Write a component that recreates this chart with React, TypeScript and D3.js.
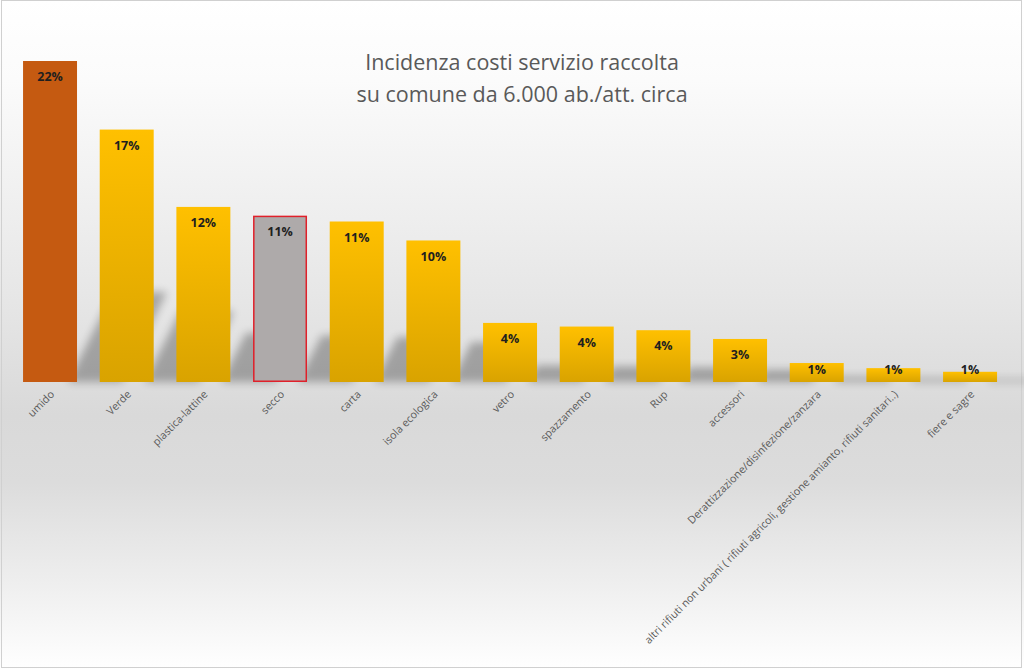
import React from "react";
import * as d3 from "d3";

const categories: string[] = [
  "umido",
  "Verde",
  "plastica-lattine",
  "secco",
  "carta",
  "isola ecologica",
  "vetro",
  "spazzamento",
  "Rup",
  "accessori",
  "Derattizzazione/disinfezione/zanzara",
  "altri rifiuti non urbani ( rifiuti agricoli, gestione amianto, rifiuti sanitari..)",
  "fiere e sagre",
];
const values: number[] = [22.0, 17.3, 12.0, 11.4, 11.0, 9.7, 4.05, 3.8, 3.55, 2.95, 1.3, 0.95, 0.7];
const labels: string[] = ["22%", "17%", "12%", "11%", "11%", "10%", "4%", "4%", "4%", "3%", "1%", "1%", "1%"];
const barKinds: string[] = ["orange", "yellow", "yellow", "grey", "yellow", "yellow", "yellow", "yellow", "yellow", "yellow", "yellow", "yellow", "yellow"];
const titleLines: string[] = ["Incidenza costi servizio raccolta", "su comune da 6.000 ab./att. circa"];

const W = 1024;
const H = 670;
const BASE = 382;
const FONT = "'Open Sans', sans-serif";

export default function App() {
  const x = d3
    .scaleBand<string>()
    .domain(categories)
    .range([11.7, 1008.4])
    .paddingInner(0.296)
    .paddingOuter(0.148);
  const y = d3.scaleLinear().domain([0, 22]).range([BASE, 61]);
  const bw = x.bandwidth();

  const fillFor = (k: string) =>
    k === "orange" ? "url(#gOrange)" : k === "grey" ? "url(#gGrey)" : "url(#gYellow)";

  return (
    <div style={{ position: "absolute", left: 0, top: 0 }}>
      <svg width={W} height={H} style={{ display: "block" }}>
        <defs>
          <linearGradient id="bg" x1="0" y1="0" x2="0" y2="1">
            <stop offset="0" stopColor="#ffffff" />
            <stop offset="0.12" stopColor="#fbfbfb" />
            <stop offset="0.45" stopColor="#e6e6e6" />
            <stop offset="0.62" stopColor="#d9d9d9" />
            <stop offset="0.72" stopColor="#dcdcdc" />
            <stop offset="0.86" stopColor="#ededed" />
            <stop offset="1" stopColor="#ffffff" />
          </linearGradient>
          <linearGradient id="gYellow" x1="0" y1="0" x2="0" y2="1">
            <stop offset="0" stopColor="#ffc000" />
            <stop offset="1" stopColor="#d9a300" />
          </linearGradient>
          <linearGradient id="gOrange" x1="0" y1="0" x2="0" y2="1">
            <stop offset="0" stopColor="#c55a11" />
            <stop offset="1" stopColor="#c55a11" />
          </linearGradient>
          <linearGradient id="gGrey" x1="0" y1="0" x2="0" y2="1">
            <stop offset="0" stopColor="#aeaaaa" />
            <stop offset="1" stopColor="#aeaaaa" />
          </linearGradient>
          <filter id="blur" x="-50%" y="-50%" width="200%" height="200%">
            <feGaussianBlur stdDeviation="4.5" />
          </filter>
        </defs>
        <rect x={0} y={0} width={W} height={H} fill="url(#bg)" />
        <rect x={1.5} y={0.5} width={1020} height={667} fill="none" stroke="#d0d0d0" strokeWidth={1} />

        {titleLines.map((t, i) => (
          <text
            key={i}
            x={522}
            y={69.5 + i * 32.5}
            textAnchor="middle"
            fontFamily={FONT}
            fontSize={21.5}
            fill="#595959"
          >
            {t}
          </text>
        ))}

        <g filter="url(#blur)" opacity={0.28}>
          {categories.map((c, i) => {
            const x0 = x(c)! + 45;
            const h = BASE - y(values[i]);
            const sh = h * 0.28;
            const dx = sh * 0.5;
            const pts = [
              [x0, BASE],
              [x0 + bw, BASE],
              [x0 + bw + dx, BASE - sh],
              [x0 + dx, BASE - sh],
            ];
            return <polygon key={c} points={pts.map((p) => p.join(",")).join(" ")} fill="#000" />;
          })}
        </g>

        {categories.map((c, i) => {
          const x0 = x(c)!;
          const top = y(values[i]);
          const kind = barKinds[i];
          return (
            <rect
              key={c}
              x={kind === "grey" ? x0 + 0.75 : x0}
              y={kind === "grey" ? top + 0.75 : top}
              width={kind === "grey" ? bw - 1.5 : bw}
              height={kind === "grey" ? BASE - top - 1.5 : BASE - top}
              fill={fillFor(kind)}
              stroke={kind === "grey" ? "#e0202a" : "none"}
              strokeWidth={1.5}
            />
          );
        })}

        {categories.map((c, i) => {
          const cx = x(c)! + bw / 2;
          const top = y(values[i]);
          const cy = Math.min(top + 15.5, 369);
          return (
            <text
              key={c}
              x={cx}
              y={cy + 4.6}
              textAnchor="middle"
              fontFamily={FONT}
              fontWeight="bold"
              fontSize={12.5}
              fill="#1f1f1f"
            >
              {labels[i]}
            </text>
          );
        })}

        {categories.map((c) => {
          const cx = x(c)! + bw / 2;
          return (
            <text
              key={c}
              transform={`translate(${cx + 5},${395}) rotate(-45)`}
              textAnchor="end"
              fontFamily={FONT}
              fontSize={10.7}
              fill="#595959"
            >
              {c}
            </text>
          );
        })}
      </svg>
    </div>
  );
}
